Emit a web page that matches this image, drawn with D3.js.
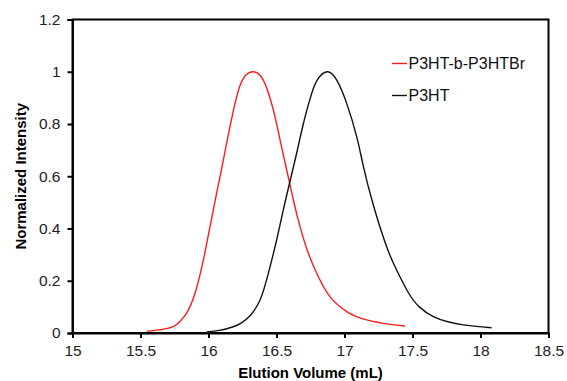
<!DOCTYPE html>
<html>
<head>
<meta charset="utf-8">
<script src="https://cdn.jsdelivr.net/npm/d3@7"></script>
<style>
  body { margin: 0; background: #fff; }
  text { font-family: Arial, "Liberation Sans", sans-serif; }
</style>
</head>
<body>
<div id="chart"></div>
<script>
// elution volume (mL) and normalized intensity
const blockX = [15.546, 15.65, 15.741, 15.79, 15.84, 15.901, 15.962, 16.011, 16.06, 16.109, 16.158, 16.207, 16.256, 16.325, 16.403, 16.476, 16.526, 16.575, 16.624, 16.673, 16.734, 16.807, 16.893, 17.016, 17.163, 17.335, 17.445];
const blockY = [0.007, 0.013, 0.024, 0.044, 0.077, 0.152, 0.279, 0.407, 0.535, 0.662, 0.79, 0.904, 0.975, 1.0, 0.968, 0.855, 0.739, 0.624, 0.509, 0.407, 0.305, 0.216, 0.139, 0.082, 0.05, 0.033, 0.027];
const homoX = [15.987, 16.08, 16.182, 16.245, 16.305, 16.379, 16.44, 16.501, 16.55, 16.599, 16.649, 16.697, 16.746, 16.796, 16.872, 16.943, 17.016, 17.09, 17.138, 17.212, 17.31, 17.384, 17.469, 17.55, 17.653, 17.76, 17.874, 18.082];
const homoY = [0.004, 0.01, 0.024, 0.04, 0.066, 0.126, 0.228, 0.356, 0.471, 0.58, 0.69, 0.8, 0.895, 0.965, 1.0, 0.968, 0.879, 0.751, 0.64, 0.49, 0.33, 0.24, 0.155, 0.1, 0.063, 0.043, 0.031, 0.02];
const xTicks = [15, 15.5, 16, 16.5, 17, 17.5, 18, 18.5];
const yTicks = [0, 0.2, 0.4, 0.6, 0.8, 1, 1.2];
const seriesNames = ['P3HT-b-P3HTBr', 'P3HT'];
const seriesColors = ['#ff1a1a', '#111111'];

const width = 567, height = 381;
const margin = { top: 19.5, right: 18.5, bottom: 48, left: 72.5 };
const w = width - margin.left - margin.right;
const h = height - margin.top - margin.bottom;

const svg = d3.select('#chart').append('svg').attr('width', width).attr('height', height);
const g = svg.append('g').attr('transform', 'translate(' + margin.left + ',' + margin.top + ')');

const x = d3.scaleLinear().domain([15, 18.5]).range([0, w]);
const y = d3.scaleLinear().domain([0, 1.2]).range([h, 0]);

// frame
g.append('rect').attr('width', w).attr('height', h)
  .attr('fill', 'none').attr('stroke', '#000').attr('stroke-width', 2);

const xAxis = g.append('g').attr('transform', 'translate(0,' + h + ')')
  .call(d3.axisBottom(x).tickValues(xTicks).tickSize(5).tickPadding(7).tickFormat(d3.format('')));
const yAxis = g.append('g')
  .call(d3.axisLeft(y).tickValues(yTicks).tickSize(5).tickPadding(7).tickFormat(d3.format('')));
[xAxis, yAxis].forEach(a => {
  a.select('.domain').attr('stroke-width', 2).attr('stroke', '#000');
  a.selectAll('.tick line').attr('stroke-width', 2).attr('stroke', '#000');
  a.selectAll('.tick text').attr('font-size', 15.5).attr('fill', '#222')
    .style('font-family', 'Arial, "Liberation Sans", sans-serif');
});

const line = d3.line().x(d => x(d[0])).y(d => y(d[1])).curve(d3.curveNatural);
const series = [d3.zip(blockX, blockY), d3.zip(homoX, homoY)];
series.forEach((s, i) => {
  g.append('path').datum(s).attr('d', line)
    .attr('fill', 'none').attr('stroke', seriesColors[i]).attr('stroke-width', 1.4);
});

// legend
const legend = svg.append('g');
seriesNames.forEach((name, i) => {
  const ly = 63.5 + i * 32;
  legend.append('line').attr('x1', 392).attr('x2', 407).attr('y1', ly).attr('y2', ly)
    .attr('stroke', seriesColors[i]).attr('stroke-width', 1.4);
  legend.append('text').attr('x', 408.5).attr('y', ly + 5.8)
    .attr('font-size', 16).attr('fill', '#111').text(name);
});

// axis titles
svg.append('text').attr('x', margin.left + w / 2).attr('y', 378)
  .attr('text-anchor', 'middle').attr('font-size', 15).attr('font-weight', 'bold')
  .text('Elution Volume (mL)');
svg.append('text').attr('transform', 'translate(26,' + (margin.top + h / 2) + ') rotate(-90)')
  .attr('text-anchor', 'middle').attr('font-size', 15).attr('font-weight', 'bold')
  .text('Normalized Intensity');
</script>
</body>
</html>
